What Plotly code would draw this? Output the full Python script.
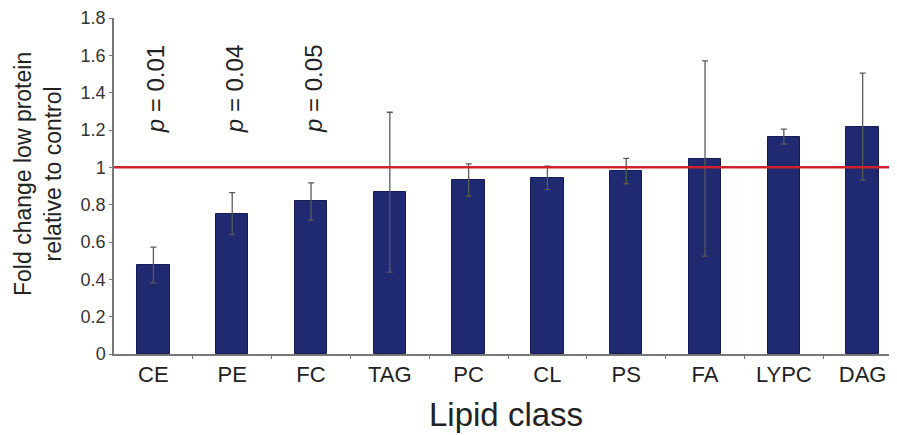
import plotly.graph_objects as go

categories = ["CE", "PE", "FC", "TAG", "PC", "CL", "PS", "FA", "LYPC", "DAG"]
fold_change = [0.477, 0.752, 0.817, 0.867, 0.932, 0.944, 0.980, 1.047, 1.165, 1.218]
error = [0.096, 0.112, 0.100, 0.428, 0.086, 0.063, 0.068, 0.523, 0.040, 0.287]
p_labels = {"CE": "0.01", "PE": "0.04", "FC": "0.05"}
y_ticks = [0, 0.2, 0.4, 0.6, 0.8, 1, 1.2, 1.4, 1.6, 1.8]
reference_level = 1.0
p_label_y = 1.42

FONT = "Liberation Sans"
OFF = 8  # page body margin of the browser
W, H = 897 - OFF, 435 - OFF
L, R, T, B = 114 - OFF, 0, 18 - OFF, 81
pw = W - L - R
ph = H - T - B


def px_x(screen_x):
    return (screen_x - OFF - L) / pw


def px_y(screen_y):
    return (H - B - (screen_y - OFF)) / ph


fig = go.Figure()
fig.add_trace(go.Bar(
    x=list(range(len(categories))),
    y=fold_change,
    width=0.41,
    marker=dict(color="#1f2a70", line=dict(color="#141c55", width=1)),
    error_y=dict(type="data", array=error, symmetric=True,
                 color="#5a5a5a", thickness=1.3, width=3),
    showlegend=False,
))

fig.add_shape(type="line", xref="paper", yref="y", x0=0, x1=1,
              y0=reference_level, y1=reference_level,
              line=dict(color="#d0202c", width=2.5))

for cat, pv in p_labels.items():
    fig.add_annotation(x=categories.index(cat), y=p_label_y, xref="x", yref="y",
                       text=f"<i>p</i> = {pv}", textangle=-90, showarrow=False,
                       xshift=3, font=dict(family=FONT, size=24, color="#222222"))

fig.add_annotation(xref="paper", yref="paper", x=px_x(38), y=px_y(174),
                   text="Fold change low protein<br>relative to control",
                   textangle=-90, showarrow=False, xanchor="center", yanchor="middle",
                   font=dict(family=FONT, size=23, color="#222222"))
fig.add_annotation(xref="paper", yref="paper", x=0.5, y=px_y(414),
                   text="Lipid class", showarrow=False, xanchor="center", yanchor="middle",
                   font=dict(family=FONT, size=33, color="#222222"))

fig.update_layout(
    width=W, height=H,
    margin=dict(l=L, r=R, t=T, b=B, pad=0, autoexpand=False),
    plot_bgcolor="white", paper_bgcolor="white",
    bargap=0,
    font=dict(family=FONT, color="#333333"),
)
fig.update_xaxes(
    automargin=False,
    range=[-0.5, 9.436],
    tickmode="array", tickvals=list(range(len(categories))), ticktext=categories,
    ticks="", showline=True, linecolor="#777777", linewidth=1.5,
    tickfont=dict(family=FONT, size=22, color="#222222"),
    showgrid=False, zeroline=False,
    minor=dict(tickvals=[i + 0.5 for i in range(len(categories) - 1)],
               ticks="outside", ticklen=3, tickcolor="#777777"),
)
fig.update_yaxes(
    automargin=False,
    range=[0, 1.8], tickvals=y_ticks,
    ticks="outside", ticklen=3, tickcolor="#777777",
    showline=True, linecolor="#777777", linewidth=1.5,
    tickfont=dict(family=FONT, size=18, color="#333333"),
    showgrid=False, zeroline=False,
)

fig.write_html("out.html")
